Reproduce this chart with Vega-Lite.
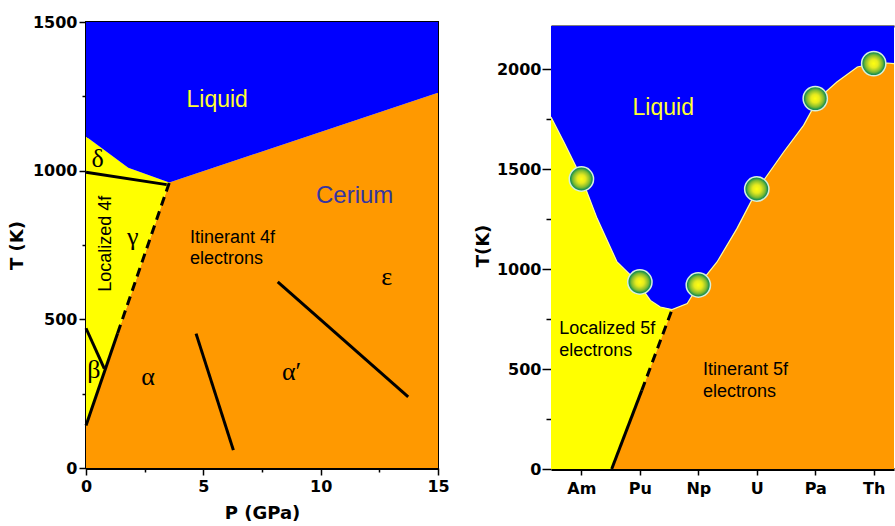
{
  "$schema": "https://vega.github.io/schema/vega-lite/v6.json",
  "padding": {"left": 7, "top": 13, "right": 0, "bottom": 0},
  "background": "white",
  "spacing": 113,
  "bounds": "flush",
  "config": {
    "view": {"stroke": "black", "strokeWidth": 2},
    "axis": {"labelFont": "DejaVu Sans", "labelFontWeight": "bold", "labelFontSize": 16, "labelColor": "black", "titleFont": "DejaVu Sans", "titleFontWeight": "bold", "titleFontSize": 18, "titleColor": "black", "domainColor": "black", "domainWidth": 3, "tickColor": "black", "tickWidth": 1.5, "grid": false},
    "text": {"font": "Liberation Sans"}
  },
  "datasets": {
    "ceAreas": [
      {"region": "itinerant", "P": 0, "lo": 0, "hi": 143},
      {"region": "itinerant", "P": 3.55, "lo": 0, "hi": 960},
      {"region": "itinerant", "P": 15, "lo": 0, "hi": 1262},
      {"region": "localized", "P": 0, "lo": 143, "hi": 1115},
      {"region": "localized", "P": 1.8, "lo": 557, "hi": 1010},
      {"region": "localized", "P": 3.55, "lo": 960, "hi": 960},
      {"region": "liquid", "P": 0, "lo": 1115, "hi": 1500},
      {"region": "liquid", "P": 1.8, "lo": 1010, "hi": 1500},
      {"region": "liquid", "P": 3.55, "lo": 960, "hi": 1500},
      {"region": "liquid", "P": 15, "lo": 1262, "hi": 1500}
    ],
    "ceLines": [
      {"id": "delta-gamma", "P": 0, "T": 995},
      {"id": "delta-gamma", "P": 3.44, "T": 953},
      {"id": "beta-gamma", "P": 0, "T": 470},
      {"id": "beta-gamma", "P": 0.78, "T": 334},
      {"id": "alpha-beta", "P": 0, "T": 143},
      {"id": "alpha-beta", "P": 1.347, "T": 453},
      {"id": "alpha-alphap", "P": 4.69, "T": 452},
      {"id": "alpha-alphap", "P": 6.28, "T": 60},
      {"id": "alphap-eps", "P": 8.17, "T": 626},
      {"id": "alphap-eps", "P": 13.73, "T": 239}
    ],
    "ceDashed": [
      {"id": "alpha-gamma", "P": 1.347, "T": 453},
      {"id": "alpha-gamma", "P": 3.55, "T": 960}
    ],
    "acAreas": [
      {"region": "localized", "Z": 95.52, "lo": 0, "hi": 1760},
      {"region": "localized", "Z": 95.3, "lo": 0, "hi": 1635},
      {"region": "localized", "Z": 95.0, "lo": 0, "hi": 1457},
      {"region": "localized", "Z": 94.73, "lo": 0, "hi": 1252},
      {"region": "localized", "Z": 94.47, "lo": 0, "hi": 1086},
      {"region": "localized", "Z": 94.39, "lo": 62, "hi": 1035},
      {"region": "localized", "Z": 94.05, "lo": 328, "hi": 938},
      {"region": "localized", "Z": 93.82, "lo": 508, "hi": 843},
      {"region": "localized", "Z": 93.65, "lo": 640, "hi": 810},
      {"region": "localized", "Z": 93.45, "lo": 797, "hi": 797},
      {"region": "itinerant", "Z": 94.47, "lo": 0, "hi": 0},
      {"region": "itinerant", "Z": 94.39, "lo": 0, "hi": 62},
      {"region": "itinerant", "Z": 94.05, "lo": 0, "hi": 328},
      {"region": "itinerant", "Z": 93.82, "lo": 0, "hi": 508},
      {"region": "itinerant", "Z": 93.65, "lo": 0, "hi": 640},
      {"region": "itinerant", "Z": 93.45, "lo": 0, "hi": 797},
      {"region": "itinerant", "Z": 93.19, "lo": 0, "hi": 827},
      {"region": "itinerant", "Z": 92.99, "lo": 0, "hi": 922},
      {"region": "itinerant", "Z": 92.68, "lo": 0, "hi": 1035},
      {"region": "itinerant", "Z": 92.34, "lo": 0, "hi": 1202},
      {"region": "itinerant", "Z": 91.99, "lo": 0, "hi": 1398},
      {"region": "itinerant", "Z": 91.54, "lo": 0, "hi": 1585},
      {"region": "itinerant", "Z": 91.2, "lo": 0, "hi": 1718},
      {"region": "itinerant", "Z": 90.95, "lo": 0, "hi": 1852},
      {"region": "itinerant", "Z": 90.63, "lo": 0, "hi": 1935},
      {"region": "itinerant", "Z": 90.28, "lo": 0, "hi": 2010},
      {"region": "itinerant", "Z": 90.01, "lo": 0, "hi": 2027},
      {"region": "itinerant", "Z": 89.77, "lo": 0, "hi": 2030},
      {"region": "itinerant", "Z": 89.653, "lo": 0, "hi": 2027},
      {"region": "liquid", "Z": 95.52, "lo": 1760, "hi": 2215},
      {"region": "liquid", "Z": 95.3, "lo": 1635, "hi": 2215},
      {"region": "liquid", "Z": 95.0, "lo": 1457, "hi": 2215},
      {"region": "liquid", "Z": 94.73, "lo": 1252, "hi": 2215},
      {"region": "liquid", "Z": 94.47, "lo": 1086, "hi": 2215},
      {"region": "liquid", "Z": 94.39, "lo": 1035, "hi": 2215},
      {"region": "liquid", "Z": 94.05, "lo": 938, "hi": 2215},
      {"region": "liquid", "Z": 93.82, "lo": 843, "hi": 2215},
      {"region": "liquid", "Z": 93.65, "lo": 810, "hi": 2215},
      {"region": "liquid", "Z": 93.45, "lo": 797, "hi": 2215},
      {"region": "liquid", "Z": 93.19, "lo": 827, "hi": 2215},
      {"region": "liquid", "Z": 92.99, "lo": 922, "hi": 2215},
      {"region": "liquid", "Z": 92.68, "lo": 1035, "hi": 2215},
      {"region": "liquid", "Z": 92.34, "lo": 1202, "hi": 2215},
      {"region": "liquid", "Z": 91.99, "lo": 1398, "hi": 2215},
      {"region": "liquid", "Z": 91.54, "lo": 1585, "hi": 2215},
      {"region": "liquid", "Z": 91.2, "lo": 1718, "hi": 2215},
      {"region": "liquid", "Z": 90.95, "lo": 1852, "hi": 2215},
      {"region": "liquid", "Z": 90.63, "lo": 1935, "hi": 2215},
      {"region": "liquid", "Z": 90.28, "lo": 2010, "hi": 2215},
      {"region": "liquid", "Z": 90.01, "lo": 2027, "hi": 2215},
      {"region": "liquid", "Z": 89.77, "lo": 2030, "hi": 2215},
      {"region": "liquid", "Z": 89.653, "lo": 2027, "hi": 2215}
    ],
    "acLiquidus": [
      {"Z": 95.52, "T": 1760}, {"Z": 95.3, "T": 1635}, {"Z": 95.0, "T": 1457}, {"Z": 94.73, "T": 1252},
      {"Z": 94.47, "T": 1086}, {"Z": 94.39, "T": 1035}, {"Z": 94.05, "T": 938}, {"Z": 93.82, "T": 843},
      {"Z": 93.65, "T": 810}, {"Z": 93.45, "T": 797}, {"Z": 93.19, "T": 827}, {"Z": 92.99, "T": 922},
      {"Z": 92.68, "T": 1035}, {"Z": 92.34, "T": 1202}, {"Z": 91.99, "T": 1398}, {"Z": 91.54, "T": 1585},
      {"Z": 91.2, "T": 1718}, {"Z": 90.95, "T": 1852}, {"Z": 90.63, "T": 1935}, {"Z": 90.28, "T": 2010},
      {"Z": 90.01, "T": 2027}, {"Z": 89.77, "T": 2030}, {"Z": 89.653, "T": 2027}
    ],
    "acMelting": [
      {"element": "Am", "Z": 95, "T": 1450},
      {"element": "Pu", "Z": 94, "T": 935},
      {"element": "Np", "Z": 93, "T": 920},
      {"element": "U", "Z": 92, "T": 1400},
      {"element": "Pa", "Z": 91, "T": 1852},
      {"element": "Th", "Z": 90, "T": 2027}
    ]
  },
  "hconcat": [
    {
      "width": 352,
      "height": 446,
      "layer": [
        {
          "data": {"name": "ceAreas"},
          "mark": {"type": "area", "opacity": 1},
          "encoding": {
            "x": {"field": "P", "type": "quantitative", "title": "P (GPa)",
              "scale": {"domain": [0, 15], "nice": false, "zero": false},
              "axis": {"values": [0, 2.5, 5, 7.5, 10, 12.5, 15], "labelExpr": "datum.value % 5 === 0 ? datum.label : ''", "tickSize": {"condition": {"test": "datum.value % 5 === 0", "value": 7}, "value": 4}, "labelPadding": 3, "titlePadding": 10, "labelFlush": false}},
            "y": {"field": "lo", "type": "quantitative", "title": "T (K)",
              "scale": {"domain": [0, 1500], "nice": false},
              "axis": {"values": [0, 250, 500, 750, 1000, 1250, 1500], "format": "d", "labelExpr": "datum.value % 500 === 0 ? datum.label : ''", "tickSize": {"condition": {"test": "datum.value % 500 === 0", "value": 7}, "value": 4}, "labelPadding": 2, "titlePadding": 6}},
            "y2": {"field": "hi"},
            "color": {"field": "region", "type": "nominal", "scale": {"domain": ["liquid", "localized", "itinerant"], "range": ["#0000ff", "#ffff00", "#ff9900"]}, "legend": null}
          }
        },
        {
          "data": {"name": "ceLines"},
          "mark": {"type": "line", "color": "black", "strokeWidth": 3},
          "encoding": {
            "x": {"field": "P", "type": "quantitative", "title": "P (GPa)"},
            "y": {"field": "T", "type": "quantitative", "title": "T (K)"},
            "detail": {"field": "id"}
          }
        },
        {
          "data": {"name": "ceDashed"},
          "mark": {"type": "line", "color": "black", "strokeWidth": 3, "strokeDash": [9, 6]},
          "encoding": {
            "x": {"field": "P", "type": "quantitative", "title": "P (GPa)"},
            "y": {"field": "T", "type": "quantitative", "title": "T (K)"},
            "detail": {"field": "id"}
          }
        },
        {
          "data": {"values": [{"label": "Liquid", "P": 5.59, "T": 1238}]},
          "mark": {"type": "text", "fontSize": 23, "color": "#ffff33", "align": "center", "baseline": "middle"},
          "encoding": {
            "x": {"field": "P", "type": "quantitative", "title": "P (GPa)"},
            "y": {"field": "T", "type": "quantitative", "title": "T (K)"},
            "text": {"field": "label"}
          }
        },
        {
          "data": {"values": [{"label": "Cerium", "P": 11.45, "T": 915}]},
          "mark": {"type": "text", "fontSize": 24, "color": "#3535a0", "align": "center", "baseline": "middle"},
          "encoding": {
            "x": {"field": "P", "type": "quantitative", "title": "P (GPa)"},
            "y": {"field": "T", "type": "quantitative", "title": "T (K)"},
            "text": {"field": "label"}
          }
        },
        {
          "data": {"values": [{"label": "Itinerant 4f\nelectrons", "P": 4.43, "T": 772}]},
          "mark": {"type": "text", "fontSize": 18, "color": "black", "align": "left", "baseline": "middle", "lineBreak": "\n", "lineHeight": 21},
          "encoding": {
            "x": {"field": "P", "type": "quantitative", "title": "P (GPa)"},
            "y": {"field": "T", "type": "quantitative", "title": "T (K)"},
            "text": {"field": "label"}
          }
        },
        {
          "data": {"values": [{"label": "Localized 4f", "P": 0.85, "T": 754}]},
          "mark": {"type": "text", "fontSize": 18, "color": "black", "align": "center", "baseline": "middle", "angle": 270},
          "encoding": {
            "x": {"field": "P", "type": "quantitative", "title": "P (GPa)"},
            "y": {"field": "T", "type": "quantitative", "title": "T (K)"},
            "text": {"field": "label"}
          }
        },
        {
          "data": {"values": [
            {"label": "γ", "P": 1.99, "T": 777},
            {"label": "δ", "P": 0.5, "T": 1040},
            {"label": "β", "P": 0.34, "T": 328},
            {"label": "α", "P": 2.65, "T": 306},
            {"label": "α′", "P": 8.76, "T": 323},
            {"label": "ε", "P": 12.81, "T": 642}
          ]},
          "mark": {"type": "text", "font": "Liberation Serif", "fontSize": 26, "color": "black", "align": "center", "baseline": "middle"},
          "encoding": {
            "x": {"field": "P", "type": "quantitative", "title": "P (GPa)"},
            "y": {"field": "T", "type": "quantitative", "title": "T (K)"},
            "text": {"field": "label"}
          }
        }
      ]
    },
    {
      "width": 343,
      "height": 447,
      "view": {"stroke": null},
      "resolve": {"axis": {"x": "independent"}},
      "layer": [
        {
          "data": {"name": "acAreas"},
          "mark": {"type": "area", "opacity": 1},
          "encoding": {
            "x": {"field": "Z", "type": "quantitative", "title": null,
              "scale": {"domain": [89.653, 95.52], "reverse": true, "nice": false, "zero": false},
              "axis": {"values": [90, 91, 92, 93, 94, 95], "labelExpr": "['Th','Pa','U','Np','Pu','Am'][datum.value - 90]", "tickSize": 6, "labelPadding": 5}},
            "y": {"field": "lo", "type": "quantitative", "title": "T(K)",
              "scale": {"domain": [0, 2235], "nice": false},
              "axis": {"values": [0, 250, 500, 750, 1000, 1250, 1500, 1750, 2000], "format": "d", "domain": false, "labelExpr": "datum.value % 500 === 0 ? datum.label : ''", "tickSize": {"condition": {"test": "datum.value % 500 === 0", "value": 9}, "value": 5}, "labelPadding": 1, "titlePadding": 4}},
            "y2": {"field": "hi"},
            "color": {"field": "region", "type": "nominal", "legend": null}
          }
        },
        {
          "data": {"name": "acLiquidus"},
          "mark": {"type": "line", "color": "#ffff99", "strokeWidth": 1.2},
          "encoding": {
            "x": {"field": "Z", "type": "quantitative", "title": null,
              "axis": {"orient": "top", "labels": false, "ticks": false, "title": null, "domain": true, "domainWidth": 2, "offset": -4}},
            "y": {"field": "T", "type": "quantitative", "title": "T(K)"}
          }
        },
        {
          "data": {"values": [{"id": "loc-itin", "Z": 94.482, "T": 0}, {"id": "loc-itin", "Z": 93.967, "T": 393}]},
          "mark": {"type": "line", "color": "black", "strokeWidth": 3},
          "encoding": {
            "x": {"field": "Z", "type": "quantitative", "axis": null},
            "y": {"field": "T", "type": "quantitative", "title": "T(K)"}
          }
        },
        {
          "data": {"values": [{"id": "loc-itin", "Z": 93.967, "T": 393}, {"id": "loc-itin", "Z": 93.45, "T": 797}]},
          "mark": {"type": "line", "color": "black", "strokeWidth": 3, "strokeDash": [9, 6]},
          "encoding": {
            "x": {"field": "Z", "type": "quantitative", "axis": null},
            "y": {"field": "T", "type": "quantitative", "title": "T(K)"}
          }
        },
        {
          "mark": {"type": "rule", "color": "black", "strokeWidth": 3},
          "encoding": {
            "x": {"datum": 95.52, "type": "quantitative", "axis": null},
            "y": {"datum": 0, "type": "quantitative", "title": "T(K)"},
            "y2": {"datum": 2215}
          }
        },
        {
          "data": {"name": "acMelting"},
          "mark": {"type": "point", "shape": "circle", "filled": true, "opacity": 1, "size": 590,
            "fill": {"gradient": "radial", "x1": 0.5, "y1": 0.5, "r1": 0, "x2": 0.5, "y2": 0.5, "r2": 0.5,
              "stops": [{"offset": 0, "color": "#ffff10"}, {"offset": 0.35, "color": "#e6ea1e"}, {"offset": 0.72, "color": "#78b832"}, {"offset": 0.88, "color": "#1c9250"}, {"offset": 1, "color": "#148a58"}]},
            "stroke": "#d8f0dc", "strokeWidth": 1.5},
          "encoding": {
            "x": {"field": "Z", "type": "quantitative", "axis": null},
            "y": {"field": "T", "type": "quantitative", "title": "T(K)"}
          }
        },
        {
          "data": {"values": [{"label": "Liquid", "Z": 93.6, "T": 1805}]},
          "mark": {"type": "text", "fontSize": 23, "color": "#ffff33", "align": "center", "baseline": "middle"},
          "encoding": {
            "x": {"field": "Z", "type": "quantitative", "axis": null},
            "y": {"field": "T", "type": "quantitative", "title": "T(K)"},
            "text": {"field": "label"}
          }
        },
        {
          "data": {"values": [
            {"label": "Localized 5f\nelectrons", "Z": 95.38, "T": 700},
            {"label": "Itinerant 5f\nelectrons", "Z": 92.92, "T": 497}
          ]},
          "mark": {"type": "text", "fontSize": 18, "color": "black", "align": "left", "baseline": "middle", "lineBreak": "\n", "lineHeight": 22},
          "encoding": {
            "x": {"field": "Z", "type": "quantitative", "axis": null},
            "y": {"field": "T", "type": "quantitative", "title": "T(K)"},
            "text": {"field": "label"}
          }
        }
      ]
    }
  ]
}
